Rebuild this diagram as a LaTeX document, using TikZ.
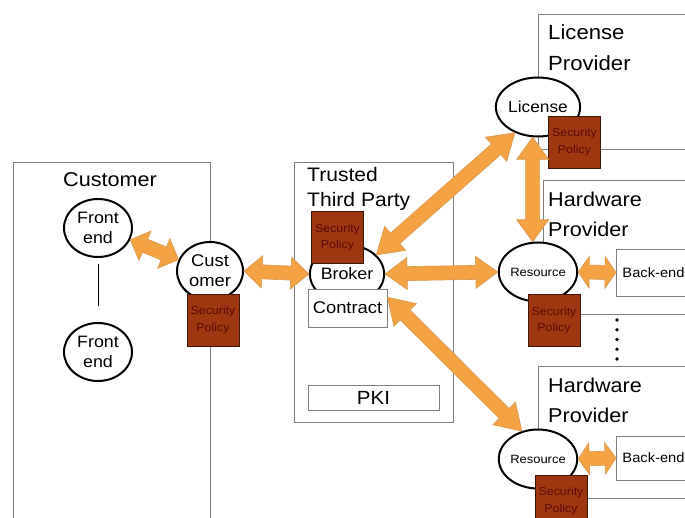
\documentclass[tikz,border=0pt]{standalone}
\usepackage{fontspec}
\setmainfont[FakeStretch=1.08]{Liberation Sans}
\usetikzlibrary{shapes.geometric,calc}
\definecolor{arrorange}{RGB}{245,162,66}
\definecolor{polbrown}{RGB}{158,54,16}
\definecolor{poltext}{RGB}{90,10,8}
\definecolor{framegray}{RGB}{125,125,125}
% fat double-headed arrow between two points: [head length]{from}{to}
\newcommand{\fatlink}[3][22pt]{%
  \filldraw[linkfill] (#2)
    -- ($(#2)!#1!(#3)!16pt!90:(#3)$)
    -- ($(#2)!#1!(#3)!7pt!90:(#3)$)
    -- ($(#3)!#1!(#2)!7pt!-90:(#2)$)
    -- ($(#3)!#1!(#2)!16pt!-90:(#2)$)
    -- (#3)
    -- ($(#3)!#1!(#2)!16pt!90:(#2)$)
    -- ($(#3)!#1!(#2)!7pt!90:(#2)$)
    -- ($(#2)!#1!(#3)!7pt!-90:(#3)$)
    -- ($(#2)!#1!(#3)!16pt!-90:(#3)$)
    -- cycle;}
\begin{document}
\begin{tikzpicture}[x=1pt,y=-1pt,
  frame/.style={draw=framegray,line width=0.9pt},
  party/.style={ellipse,draw=black,line width=2pt,fill=white,inner sep=0pt,align=center},
  policy/.style={draw=black!60!polbrown,line width=0.5pt,fill=polbrown,text=poltext,
    minimum width=52pt,minimum height=52pt,inner sep=0pt,align=center,
    font=\fontsize{11.5}{16.5}\selectfont},
  plainbox/.style={draw=framegray,line width=0.9pt,fill=white,inner sep=0pt},
  title/.style={anchor=base west,inner sep=0pt,font=\fontsize{20}{24}\selectfont},
  linkfill/.style={fill=arrorange,draw=arrorange!75!gray,line width=0.6pt,line join=miter},
]
\useasboundingbox (0,0) rectangle (685,518);
\clip (0,0) rectangle (685,518);
\fill[white] (0,0) rectangle (685,518);

% party frames
\draw[frame] (13,162) rectangle (210,530);
\draw[frame] (294,162) rectangle (453,422);
\draw[frame] (538,14) rectangle (700,149);
\draw[frame] (543,180) rectangle (700,314);
\draw[frame] (538,366) rectangle (700,498);

% frame titles
\node[title] at (63,187) {Customer};
\node[title,font=\fontsize{19.5}{24}\selectfont] at (307,182) {Trusted};
\node[title,font=\fontsize{19.5}{24}\selectfont] at (307,207) {Third Party};
\node[title,font=\fontsize{20.5}{24}\selectfont] at (548,40) {License};
\node[title,font=\fontsize{20.5}{24}\selectfont] at (548,71) {Provider};
\node[title] at (548,207) {Hardware};
\node[title] at (548,237) {Provider};
\node[title] at (548,392) {Hardware};
\node[title] at (548,422) {Provider};

% customer side
\node[party,minimum width=68pt,minimum height=58pt,font=\fontsize{16.5}{20}\selectfont] (fe1) at (98,228) {Front\\end};
\node[party,minimum width=68pt,minimum height=58pt,font=\fontsize{16.5}{20}\selectfont] (fe2) at (98,352) {Front\\end};
\draw[line width=0.8pt,shorten <=6pt,shorten >=16pt] (fe1) -- (fe2);
\node[party,minimum width=66pt,minimum height=58pt,font=\fontsize{17}{20}\selectfont] (cust) at (210,271) {Cust\\omer};
\node[policy] (spcust) at (213,320) {Security\\Policy};

% trusted third party
\node[party,minimum width=68pt,minimum height=58pt,font=\fontsize{16.5}{20}\selectfont] (broker) at (347,274) {Broker};
\node[policy] (spttp) at (337.5,237.5) {Security\\Policy};
\node[plainbox,minimum width=79pt,minimum height=38pt,font=\fontsize{17}{20}\selectfont] (contract) at (347.5,308) {Contract};
\node[plainbox,minimum width=131pt,minimum height=25pt,font=\fontsize{19}{22}\selectfont] (pki) at (373.5,397.5) {PKI};

% license provider
\node[party,minimum width=66pt,minimum height=59pt,font=\fontsize{16}{20}\selectfont] (lic) at (538,107) {License};
\node[policy] (splic) at (574.5,142) {Security\\Policy};

% hardware providers
\node[party,minimum width=67pt,minimum height=59pt,font=\fontsize{12}{14}\selectfont] (res1) at (538,272) {Resource};
\node[policy] (spres1) at (554,320.5) {Security\\Policy};
\node[plainbox,anchor=west,minimum height=47pt,text width=80pt,inner xsep=6pt,align=left,
  font=\fontsize{13.6}{16}\selectfont] (be1) at (616,272.5) {Back-end};

\node[party,minimum width=67pt,minimum height=59pt,font=\fontsize{12}{14}\selectfont] (res2) at (538,459) {Resource};
\node[policy] (spres2) at (561,501) {Security\\Policy};
\node[plainbox,anchor=west,minimum height=44pt,text width=80pt,inner xsep=6pt,align=left,
  font=\fontsize{13.6}{16}\selectfont] (be2) at (616,458) {Back-end};

% further hardware providers
\foreach \k in {0,...,4} \fill (617,320+9.75*\k) circle (1.8pt);

% interactions
\fatlink[16pt]{fe1.340}{cust.160}
\fatlink[18pt]{cust.east}{broker.west}
\fatlink{broker.east}{res1.west}
\fatlink[25pt]{broker.33}{lic.228}
\fatlink{lic.260}{res1.100}
\fatlink[11pt]{res1.east}{be1.west}
\fatlink[25pt]{contract.15}{res2.120}
\fatlink[11pt]{res2.east}{be2.west}
\end{tikzpicture}
\end{document}
